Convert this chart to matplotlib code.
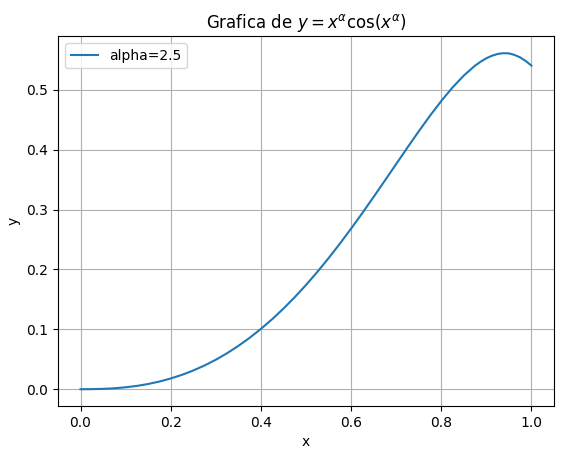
import numpy as np
import matplotlib.pyplot as plt

# values
x = [0.0, 0.025, 0.05, 0.075, 0.1, 0.125, 0.15, 0.175, 0.2, 0.225, 0.25,
     0.275, 0.3, 0.325, 0.35, 0.375, 0.4, 0.425, 0.45, 0.475, 0.5, 0.525,
     0.55, 0.575, 0.6, 0.625, 0.65, 0.675, 0.7, 0.725, 0.75, 0.775, 0.8,
     0.825, 0.85, 0.875, 0.8875, 0.9, 0.9125, 0.925, 0.9375, 0.95, 0.9625,
     0.975, 0.9875, 1.0]
y = [0.0, 0.0001, 0.0006, 0.0015, 0.0032, 0.0055, 0.0087, 0.0128, 0.0179,
     0.0240, 0.0312, 0.0396, 0.0492, 0.0601, 0.0723, 0.0858, 0.1007, 0.1169,
     0.1346, 0.1536, 0.1740, 0.1957, 0.2187, 0.2429, 0.2681, 0.2942, 0.3211,
     0.3484, 0.3760, 0.4035, 0.4305, 0.4566, 0.4812, 0.5038, 0.5237, 0.5403,
     0.5469, 0.5526, 0.5568, 0.5597, 0.5610, 0.5607, 0.5581, 0.5540, 0.5479,
     0.5403]
label = "alpha=2.5"

fig = plt.figure(figsize=(5.81, 4.5), dpi=100)
ax = fig.add_axes([58 / 581, 44 / 450, 496 / 581, 369.6 / 450])
ax.plot(x, y, "-", label=label)
ax.set_title(r"Grafica de $y = x^\alpha \cos(x^\alpha)$")
ax.set_xlabel("x")
ax.set_ylabel("y")
ax.legend(loc="upper left")
ax.grid(True)
fig.savefig("out.png", dpi=100)
